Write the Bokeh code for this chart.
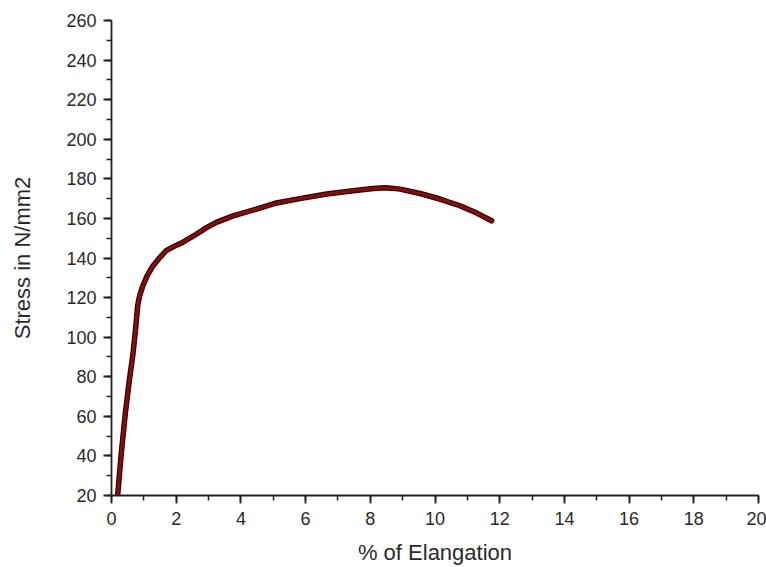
from bokeh.plotting import figure
from bokeh.models import Range1d, SingleIntervalTicker
from bokeh.embed import file_html
from bokeh.resources import INLINE

# Data
elongation = [0.19, 0.30, 0.43, 0.55, 0.66, 0.75, 0.81, 0.87, 0.97, 1.10, 1.28,
              1.48, 1.69, 1.95, 2.21, 2.62, 2.95, 3.24, 3.76, 4.48, 5.10, 5.82,
              6.65, 7.47, 8.09, 8.45, 8.65, 8.92, 9.54, 10.15, 10.77, 11.29, 11.75]
stress = [20, 41, 62, 78, 91, 105, 116, 121, 126, 131, 136,
          140, 143.7, 146, 148, 152, 155.5, 158, 161.3, 164.7, 167.8, 170,
          172.3, 174, 175.1, 175.5, 175.3, 174.8, 172.6, 169.8, 166.4, 162.7, 158.8]

x_title = "% of Elangation"
y_title = "Stress in N/mm2"

p = figure(width=766, height=567, output_backend="svg", toolbar_location=None,
           x_range=Range1d(0, 20), y_range=Range1d(20, 260),
           min_border_left=111, min_border_right=8, min_border_top=20,
           min_border_bottom=70)

p.outline_line_color = None
p.grid.visible = False
p.background_fill_color = "white"

p.line(elongation, stress, line_color="#2a0000", line_width=5.5, line_join="round", line_cap="round")
p.line(elongation, stress, line_color="#8a0b0b", line_width=3.2, line_join="round", line_cap="round")

p.xaxis.ticker = SingleIntervalTicker(interval=2, num_minor_ticks=2)
p.yaxis.ticker = SingleIntervalTicker(interval=20, num_minor_ticks=2)

for ax in (p.xaxis[0], p.yaxis[0]):
    ax.axis_line_color = "#222222"
    ax.axis_line_width = 1.8
    ax.major_tick_line_color = "#222222"
    ax.major_tick_line_width = 1.8
    ax.minor_tick_line_color = "#222222"
    ax.minor_tick_line_width = 1.5
    ax.major_tick_in = 0
    ax.major_tick_out = 8
    ax.minor_tick_in = 0
    ax.minor_tick_out = 5
    ax.major_label_text_font = "Liberation Sans"
    ax.major_label_text_font_size = "18px"
    ax.major_label_text_color = "#2a2a2a"
    ax.axis_label_text_font = "Liberation Sans"
    ax.axis_label_text_font_size = "22px"
    ax.axis_label_text_font_style = "normal"
    ax.axis_label_text_color = "#2a2a2a"

p.xaxis.axis_label = x_title
p.yaxis.axis_label = y_title
p.xaxis.major_label_standoff = 8
p.xaxis.axis_label_standoff = 12
p.yaxis.major_label_standoff = 7
p.yaxis.axis_label_standoff = 28

open("out.html", "w").write(file_html(p, INLINE))
